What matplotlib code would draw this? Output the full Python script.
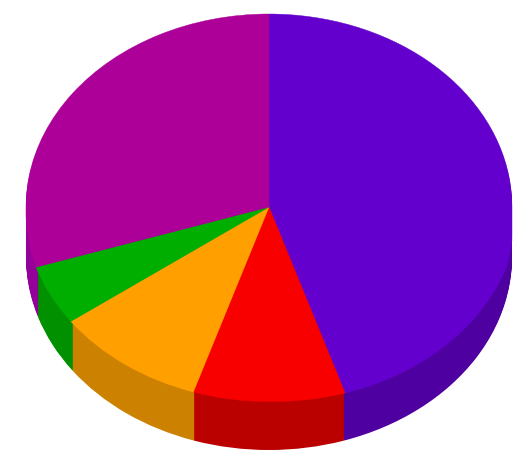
import matplotlib
matplotlib.use('Agg')
import matplotlib.pyplot as plt
from matplotlib.transforms import Affine2D
import numpy as np

# slice shares, clockwise from 12 o'clock
shares = [45, 10, 10, 5, 30]
top_colors = ['#6400CE', '#F80000', '#FF9F00', '#00AE00', '#AC0098']
side_colors = ['#4E00A0', '#BB0000', '#CC8200', '#009000', '#93009A']

W, H = 532, 469
fig = plt.figure(figsize=(W / 100, H / 100), dpi=100)
ax = fig.add_axes([0, 0, 1, 1])

# pixel box, so the squashed pie lands where it should
cx, cy, rx, ry, depth = 269, 207, 243, 193, 50


def perspective(xy):
    # front of the top face bulges a bit, more so towards the right
    phi = np.arctan2(xy[:, 1] / ry, xy[:, 0] / rx)
    front = np.clip(-np.sin(phi) / 0.3, 0, 1)
    r = 1 + front * (0.008 + 0.018 * np.clip(np.cos(phi), 0, None))
    out = xy * r[:, None]
    # the bulge must stay inside the outline of the wall
    out[:, 0] = np.clip(out[:, 0], -rx, rx)
    return out


# side wall: same pie stacked downward
for off in range(depth, 0, -1):
    wedges, _ = ax.pie(shares, colors=side_colors, startangle=90, counterclock=False,
                       wedgeprops={'linewidth': 0})
    for w in wedges:
        w.set_transform(Affine2D().scale(rx, ry).translate(cx, H - cy - off) + ax.transData)

# top face, flattened to polygons so it can be bent
wedges, _ = ax.pie(shares, colors=top_colors, startangle=90, counterclock=False,
                   wedgeprops={'linewidth': 0})
for w, col in zip(wedges, top_colors):
    w.set_visible(False)
    for poly in w.get_path().to_polygons(Affine2D().scale(rx, ry)):
        poly = perspective(poly)
        ax.fill(poly[:, 0] + cx, poly[:, 1] + H - cy, color=col, lw=0.3)

ax.set_aspect('auto')
ax.set_xlim(0, W)
ax.set_ylim(0, H)
ax.axis('off')

fig.savefig('out.png', dpi=100)
